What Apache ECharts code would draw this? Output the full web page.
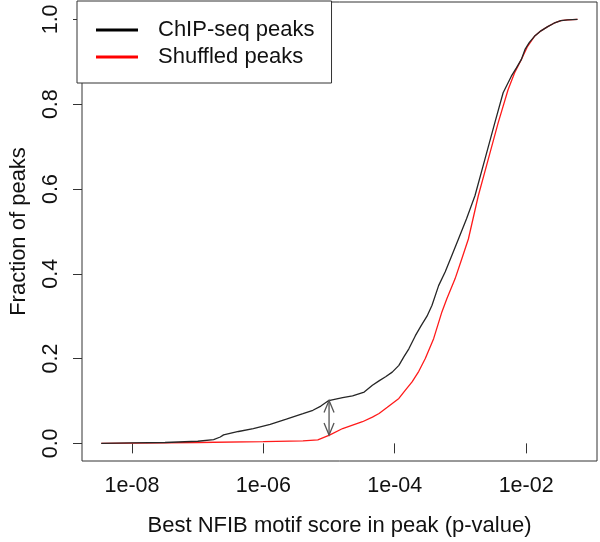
<!DOCTYPE html>
<html>
<head>
<meta charset="utf-8">
<script src="https://cdn.jsdelivr.net/npm/echarts@6/dist/echarts.min.js"></script>
<style>
html,body{margin:0;padding:0;background:#fff;}
#chart{width:600px;height:542px;}
</style>
</head>
<body>
<div id="chart"></div>
<script>
// x values are log10(p-value) of the best NFIB motif score in a peak
const chipLog10P = [-8.468,-8.0,-7.497,-6.998,-6.757,-6.656,-6.606,-6.379,-6.153,-5.896,-5.650,-5.397,-5.246,-5.125,-5.005,-4.793,-4.642,-4.465,-4.340,-4.234,-4.139,-4.038,-3.937,-3.857,-3.785,-3.686,-3.600,-3.509,-3.434,-3.332,-3.233,-3.131,-3.030,-2.907,-2.779,-2.628,-2.477,-2.350,-2.225,-2.150,-2.074,-2.014,-1.953,-1.873,-1.774,-1.671,-1.576,-1.471,-1.368,-1.218];
const chipFrac   = [0,0.001,0.002,0.005,0.009,0.015,0.02,0.028,0.035,0.045,0.057,0.07,0.078,0.088,0.101,0.108,0.112,0.121,0.137,0.148,0.157,0.168,0.184,0.205,0.223,0.254,0.277,0.30,0.325,0.372,0.404,0.443,0.482,0.53,0.584,0.67,0.756,0.827,0.866,0.885,0.905,0.93,0.945,0.96,0.973,0.983,0.991,0.997,0.999,1.0];
const shufLog10P = [-8.468,-7.497,-6.998,-6.002,-5.397,-5.171,-4.994,-4.793,-4.642,-4.491,-4.340,-4.239,-4.113,-3.937,-3.841,-3.736,-3.634,-3.535,-3.408,-3.282,-3.207,-3.082,-2.980,-2.879,-2.728,-2.577,-2.426,-2.275,-2.175,-2.074,-1.983,-1.873,-1.774,-1.671,-1.576,-1.471,-1.368,-1.218];
const shufFrac   = [0,0.001,0.002,0.004,0.006,0.008,0.0195,0.035,0.043,0.051,0.062,0.0705,0.085,0.106,0.125,0.145,0.17,0.2,0.247,0.31,0.341,0.388,0.435,0.482,0.584,0.67,0.756,0.834,0.874,0.905,0.935,0.96,0.973,0.983,0.991,0.997,0.999,1.0];
// double-headed arrow marking the gap at p = 1e-05
const arrowLog10P = -5.0;
const arrowLow = 0.0195;
const arrowHigh = 0.101;

const xTicks = [-8,-6,-4,-2];
const yTicks = [0,0.2,0.4,0.6,0.8,1.0];
const seriesNames = ['ChIP-seq peaks','Shuffled peaks'];

const FONT = 'Liberation Sans, Arial, Helvetica, sans-serif';
const zip = (a,b) => a.map((v,i) => [v,b[i]]);
const fmtExp = v => '1e' + (v < 0 ? '-' : '+') + String(Math.abs(v)).padStart(2,'0');

const chart = echarts.init(document.getElementById('chart'), null, {renderer:'canvas'});
chart.setOption({
  animation:false,
  backgroundColor:'#fff',
  textStyle:{fontFamily:FONT},
  grid:{left:77,right:3,top:2,bottom:79,show:true,borderColor:'#333',borderWidth:1,backgroundColor:'transparent'},
  legend:{
    data:seriesNames,
    orient:'vertical',
    left:77, top:1,
    padding:[18,17,15,19],
    icon:'rect',
    itemWidth:42, itemHeight:3, itemGap:5,
    borderColor:'#333', borderWidth:1, backgroundColor:'#fff',
    textStyle:{fontSize:22, color:'#111', fontFamily:FONT, padding:[0,0,0,15], lineHeight:22},
    selectedMode:false
  },
  xAxis:{
    type:'value', min:-8.761, max:-0.921,
    name:'Best NFIB motif score in peak (p-value)',
    nameLocation:'middle', nameGap:54,
    nameTextStyle:{fontSize:22, color:'#111', fontFamily:FONT},
    axisLine:{show:false},
    axisTick:{show:true, customValues:xTicks, length:10, lineStyle:{color:'#333'}},
    axisLabel:{customValues:xTicks, fontSize:21.5, color:'#111', margin:14, formatter:fmtExp},
    splitLine:{show:false}
  },
  yAxis:{
    type:'value', min:-0.0416, max:1.041,
    name:'Fraction of peaks',
    nameLocation:'middle', nameGap:52,
    nameTextStyle:{fontSize:22, color:'#111', fontFamily:FONT},
    axisLine:{show:false},
    axisTick:{show:true, customValues:yTicks, length:9, lineStyle:{color:'#333'}},
    axisLabel:{customValues:yTicks, fontSize:21.5, color:'#111', margin:20, rotate:90, formatter:v => v.toFixed(1)},
    splitLine:{show:false}
  },
  series:[
    {name:seriesNames[0], type:'line', data:zip(chipLog10P, chipFrac), symbol:'none', z:3,
     lineStyle:{color:'#262626', width:1.3}, itemStyle:{color:'#000'}},
    {name:seriesNames[1], type:'line', data:zip(shufLog10P, shufFrac), symbol:'none', z:2,
     lineStyle:{color:'#ff1a1a', width:1.3}, itemStyle:{color:'#ff0000'}},
    {name:'arrow', type:'custom', silent:true, z:4,
     data:[[arrowLog10P, arrowLow, arrowHigh]],
     renderItem:function(params, api){
       const top = api.coord([api.value(0), api.value(2)]);
       const bot = api.coord([api.value(0), api.value(1)]);
       const st = {stroke:'#555', lineWidth:1.3, fill:null};
       return {type:'group', children:[
         {type:'line', shape:{x1:top[0],y1:top[1],x2:bot[0],y2:bot[1]}, style:st},
         {type:'polyline', shape:{points:[[top[0]-5,top[1]+12],[top[0],top[1]],[top[0]+5,top[1]+12]]}, style:st},
         {type:'polyline', shape:{points:[[bot[0]-5,bot[1]-12],[bot[0],bot[1]],[bot[0]+5,bot[1]-12]]}, style:st}
       ]};
     }}
  ]
});
</script>
</body>
</html>
